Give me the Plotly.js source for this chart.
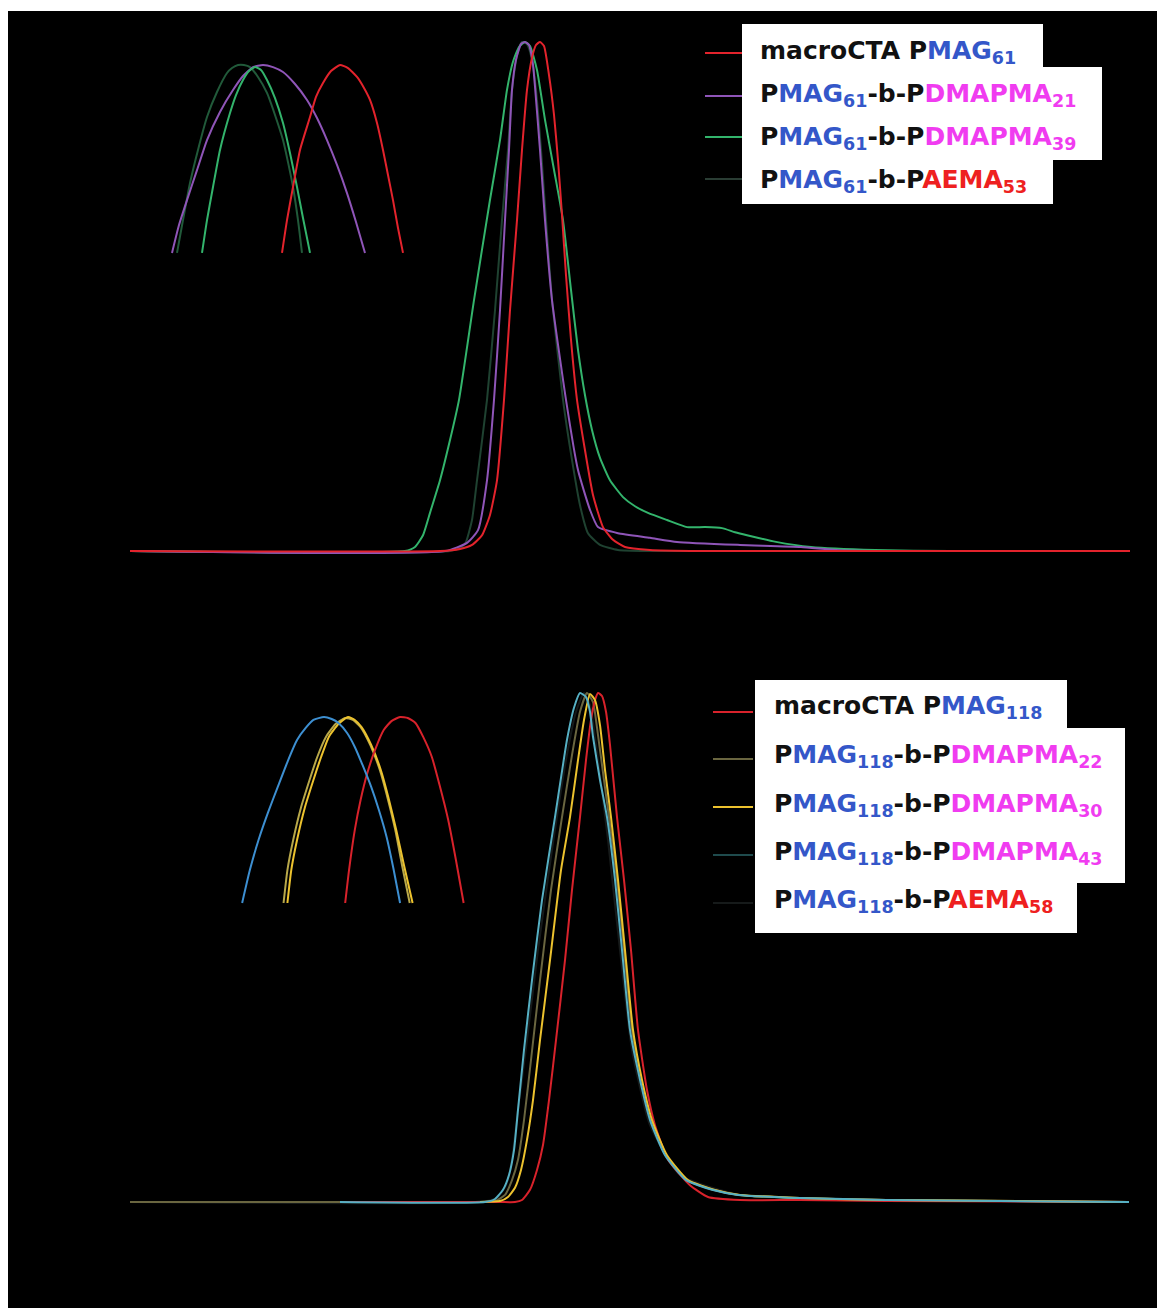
<!DOCTYPE html>
<html>
<head>
<meta charset="utf-8">
<script src="https://cdn.plot.ly/plotly-3.0.1.min.js"></script>
<style>
  html, body { margin: 0; padding: 0; background: #ffffff; }
  #wrap { position: absolute; left: 8px; top: 11px; width: 1149px; height: 1297px; }
</style>
</head>
<body>
<div id="wrap"><div id="chart"></div></div>
<script>
// ---------- Top panel: PMAG61 series (elution volume, normalised RI signal) ----------
const topRedX = [10, 16.2, 16.6, 16.84, 17.04, 17.2, 17.34, 17.48, 17.6, 17.74, 17.84, 17.94, 18.04, 18.12, 18.2, 18.28, 18.38, 18.48, 18.56, 18.64, 18.72, 18.82, 18.94, 19.1, 19.26, 19.46, 19.66, 19.9, 20.4, 21.4, 30];
const topRedY = [0, 0, 0.004, 0.012, 0.031, 0.071, 0.139, 0.297, 0.473, 0.650, 0.788, 0.906, 0.969, 0.994, 1.0, 0.992, 0.935, 0.857, 0.768, 0.660, 0.542, 0.415, 0.297, 0.198, 0.110, 0.047, 0.022, 0.008, 0.002, 0, 0];

const topPurpleX = [10, 16.3, 16.74, 16.96, 17.14, 17.28, 17.4, 17.5, 17.58, 17.64, 17.72, 17.82, 17.9, 17.98, 18.06, 18.1, 18.2, 18.3, 18.44, 18.72, 18.96, 19.2, 19.36, 19.76, 20.4, 20.94, 22.2, 23.42, 24.12, 25.0, 30];
const topPurpleY = [0, 0, 0.016, 0.041, 0.139, 0.297, 0.473, 0.650, 0.788, 0.906, 0.965, 0.996, 1.0, 0.994, 0.955, 0.912, 0.788, 0.650, 0.493, 0.297, 0.159, 0.081, 0.047, 0.035, 0.026, 0.018, 0.012, 0.008, 0.002, 0, 0];

const topGreenX = [10, 15.5, 15.7, 15.86, 16.0, 16.2, 16.4, 16.58, 16.88, 17.2, 17.4, 17.54, 17.66, 17.78, 17.9, 18.0, 18.14, 18.3, 18.48, 18.66, 18.82, 18.96, 19.1, 19.24, 19.4, 19.6, 19.86, 20.1, 20.36, 20.74, 21.14, 21.5, 21.84, 22.1, 22.34, 22.92, 23.62, 24.9, 26.4, 30];
const topGreenY = [0, 0, 0.008, 0.031, 0.075, 0.139, 0.218, 0.297, 0.493, 0.690, 0.807, 0.906, 0.961, 0.990, 1.0, 0.992, 0.945, 0.847, 0.749, 0.650, 0.513, 0.395, 0.306, 0.238, 0.183, 0.139, 0.106, 0.088, 0.075, 0.061, 0.047, 0.047, 0.045, 0.037, 0.031, 0.018, 0.008, 0.002, 0, 0];

const topDarkX = [10, 16.4, 16.64, 16.72, 16.84, 16.94, 17.14, 17.3, 17.44, 17.56, 17.64, 17.74, 17.84, 17.94, 18.04, 18.12, 18.22, 18.32, 18.44, 18.66, 18.84, 19.0, 19.16, 19.4, 19.76, 20.4, 30];
const topDarkY = [0, 0, 0.008, 0.018, 0.061, 0.139, 0.297, 0.473, 0.650, 0.788, 0.906, 0.974, 1.0, 0.996, 0.965, 0.906, 0.788, 0.650, 0.493, 0.297, 0.179, 0.090, 0.035, 0.012, 0.002, 0, 0];

// ---------- Top inset: magnified peak tops ----------
const insTopRedX = [18.028, 18.048, 18.072, 18.100, 18.140, 18.164, 18.192, 18.224, 18.260, 18.292, 18.328, 18.356, 18.380, 18.408, 18.432, 18.452, 18.472, 18.492, 18.512];
const insTopRedY = [0.9011, 0.9184, 0.9358, 0.9553, 0.9726, 0.9832, 0.9905, 0.9968, 1.0, 0.9984, 0.9937, 0.9879, 0.9816, 0.9695, 0.9553, 0.9421, 0.9289, 0.9142, 0.9011];
const insTopPurpleX = [17.588, 17.616, 17.648, 17.688, 17.728, 17.78, 17.832, 17.872, 17.912, 17.952, 17.992, 18.032, 18.08, 18.128, 18.168, 18.208, 18.248, 18.288, 18.324, 18.36];
const insTopPurpleY = [0.9011, 0.9158, 0.9289, 0.9447, 0.9605, 0.9753, 0.9868, 0.9942, 0.9989, 1.0, 0.9989, 0.9963, 0.99, 0.9816, 0.9721, 0.9605, 0.9474, 0.9326, 0.9174, 0.9011];
const insTopGreenX = [17.708, 17.728, 17.752, 17.78, 17.82, 17.844, 17.872, 17.896, 17.92, 17.944, 17.968, 18.0, 18.032, 18.06, 18.088, 18.112, 18.14];
const insTopGreenY = [0.9011, 0.9184, 0.9358, 0.9553, 0.9747, 0.9842, 0.9921, 0.9968, 0.9989, 0.9974, 0.9921, 0.9826, 0.9695, 0.9537, 0.9358, 0.9195, 0.9011];
const insTopDarkX = [17.608, 17.632, 17.66, 17.692, 17.728, 17.768, 17.808, 17.828, 17.852, 17.876, 17.9, 17.932, 17.968, 18.0, 18.032, 18.052, 18.072, 18.092, 18.108];
const insTopDarkY = [0.9011, 0.9184, 0.9379, 0.9553, 0.9726, 0.9858, 0.9958, 0.9984, 1.0, 1.0, 0.9989, 0.9937, 0.9853, 0.9737, 0.9605, 0.9489, 0.9358, 0.9184, 0.9011];

// ---------- Bottom panel: PMAG118 series ----------
const botRedX = [14.2, 17.4, 17.7, 17.84, 18.0, 18.14, 18.26, 18.38, 18.52, 18.7, 18.84, 19.0, 19.12, 19.22, 19.3, 19.36, 19.44, 19.52, 19.6, 19.74, 19.88, 20.02, 20.16, 20.34, 20.5, 20.76, 21.2, 21.56, 22.2, 23.4, 25.12, 29.98];
const botRedY = [0, 0, 0, 0.004, 0.024, 0.063, 0.112, 0.200, 0.318, 0.475, 0.613, 0.756, 0.868, 0.947, 0.986, 1.0, 0.994, 0.963, 0.898, 0.756, 0.633, 0.495, 0.338, 0.220, 0.151, 0.083, 0.033, 0.010, 0.004, 0.004, 0.002, 0];

const botOliveX = [10, 16.8, 17.3, 17.5, 17.64, 17.76, 17.88, 18.02, 18.2, 18.42, 18.64, 18.84, 19.0, 19.14, 19.26, 19.36, 19.48, 19.58, 19.74, 19.88, 20.04, 20.22, 20.42, 20.72, 21.14, 21.66, 22.18, 23.4, 25.12, 29.98];
const botOliveY = [0, 0, 0.002, 0.014, 0.043, 0.083, 0.161, 0.279, 0.436, 0.613, 0.756, 0.878, 0.963, 1.0, 0.982, 0.917, 0.829, 0.756, 0.633, 0.495, 0.338, 0.240, 0.161, 0.092, 0.043, 0.024, 0.014, 0.008, 0.004, 0];

const botYellowX = [17.0, 17.4, 17.56, 17.7, 17.82, 17.94, 18.06, 18.2, 18.4, 18.62, 18.8, 18.96, 19.08, 19.2, 19.3, 19.4, 19.5, 19.62, 19.76, 19.9, 20.06, 20.24, 20.44, 20.74, 21.16, 21.68, 22.2, 23.4, 25.12, 29.98];
const botYellowY = [0, 0.002, 0.010, 0.028, 0.063, 0.122, 0.200, 0.318, 0.475, 0.652, 0.756, 0.868, 0.947, 0.998, 0.986, 0.937, 0.849, 0.756, 0.633, 0.495, 0.338, 0.240, 0.161, 0.092, 0.043, 0.024, 0.014, 0.008, 0.004, 0];

const botTealX = [14.2, 17.1, 17.3, 17.46, 17.58, 17.68, 17.76, 17.88, 18.04, 18.24, 18.5, 18.74, 18.88, 19.0, 19.12, 19.2, 19.26, 19.4, 19.54, 19.7, 19.84, 20.0, 20.2, 20.4, 20.7, 21.12, 21.64, 22.16, 23.4, 25.12, 27.4, 29.98];
const botTealY = [0, 0, 0.006, 0.024, 0.053, 0.102, 0.181, 0.299, 0.436, 0.593, 0.756, 0.908, 0.971, 1.0, 0.992, 0.963, 0.914, 0.829, 0.756, 0.633, 0.495, 0.338, 0.240, 0.161, 0.092, 0.043, 0.024, 0.014, 0.008, 0.004, 0.002, 0];

const botDarkX = [10, 17.0, 17.34, 17.52, 17.64, 17.76, 17.94, 18.16, 18.44, 18.72, 18.92, 19.08, 19.2, 19.36, 19.56, 19.8, 20.04, 20.4, 21.0, 22.2, 25.4, 29.98];
const botDarkY = [0, 0, 0.008, 0.033, 0.083, 0.181, 0.318, 0.495, 0.692, 0.868, 0.963, 1.0, 0.976, 0.868, 0.711, 0.495, 0.299, 0.151, 0.053, 0.014, 0.004, 0];

// ---------- Bottom inset ----------
const insBotTealX = [18.952, 18.984, 19.02, 19.06, 19.1, 19.14, 19.18, 19.216, 19.248, 19.292, 19.324, 19.352, 19.388, 19.42, 19.452, 19.488, 19.52, 19.552, 19.58, 19.608];
const insBotTealY = [0.9, 0.9177, 0.9339, 0.9489, 0.9624, 0.9758, 0.9876, 0.9941, 0.9984, 1.0, 0.9989, 0.9968, 0.9914, 0.9839, 0.9742, 0.9624, 0.95, 0.9355, 0.9188, 0.9];
const insBotYellowX = [19.14, 19.156, 19.18, 19.212, 19.248, 19.28, 19.312, 19.352, 19.392, 19.42, 19.448, 19.488, 19.528, 19.56, 19.592, 19.624, 19.66];
const insBotYellowY = [0.9, 0.9177, 0.9339, 0.9511, 0.9661, 0.9785, 0.9893, 0.9962, 1.0, 0.9984, 0.9946, 0.985, 0.9715, 0.9565, 0.9393, 0.9204, 0.9];
const insBotOliveX = [19.124, 19.14, 19.164, 19.196, 19.232, 19.264, 19.3, 19.34, 19.38, 19.412, 19.444, 19.484, 19.524, 19.556, 19.588, 19.616, 19.648];
const insBotOliveY = [0.9, 0.9177, 0.9339, 0.9511, 0.9661, 0.9785, 0.9893, 0.9962, 0.9995, 0.9984, 0.9946, 0.985, 0.9715, 0.9565, 0.9393, 0.9204, 0.9];
const insBotRedX = [19.38, 19.396, 19.42, 19.444, 19.472, 19.504, 19.54, 19.572, 19.608, 19.64, 19.672, 19.704, 19.74, 19.772, 19.808, 19.84, 19.872];
const insBotRedY = [0.9, 0.9177, 0.9393, 0.9554, 0.9699, 0.9823, 0.993, 0.9978, 1.0, 0.9995, 0.9968, 0.9893, 0.9785, 0.9634, 0.9446, 0.9231, 0.9];

// ---------- Legend labels ----------
const BLUE = '#3457c9', MAG = '#f03cf0', RED = '#ee2020';
const topLabels = [
  'macroCTA P<span style="color:' + BLUE + '">MAG<sub>61</sub></span>',
  'P<span style="color:' + BLUE + '">MAG<sub>61</sub></span>-b-P<span style="color:' + MAG + '">DMAPMA<sub>21</sub></span>',
  'P<span style="color:' + BLUE + '">MAG<sub>61</sub></span>-b-P<span style="color:' + MAG + '">DMAPMA<sub>39</sub></span>',
  'P<span style="color:' + BLUE + '">MAG<sub>61</sub></span>-b-P<span style="color:' + RED + '">AEMA<sub>53</sub></span>'
];
const botLabels = [
  'macroCTA P<span style="color:' + BLUE + '">MAG<sub>118</sub></span>',
  'P<span style="color:' + BLUE + '">MAG<sub>118</sub></span>-b-P<span style="color:' + MAG + '">DMAPMA<sub>22</sub></span>',
  'P<span style="color:' + BLUE + '">MAG<sub>118</sub></span>-b-P<span style="color:' + MAG + '">DMAPMA<sub>30</sub></span>',
  'P<span style="color:' + BLUE + '">MAG<sub>118</sub></span>-b-P<span style="color:' + MAG + '">DMAPMA<sub>43</sub></span>',
  'P<span style="color:' + BLUE + '">MAG<sub>118</sub></span>-b-P<span style="color:' + RED + '">AEMA<sub>58</sub></span>'
];
const topColors = ['#e3232c', '#8f55b8', '#33b46c', '#2a3d34'];
const botColors = ['#d8222b', '#6a6640', '#ecc22e', '#1f4b4d', '#161a1a'];

// ---------- Build ----------
function tr(x, y, color, xa, ya, w) {
  return { x: x, y: y, type: 'scatter', mode: 'lines', xaxis: xa, yaxis: ya,
           line: { color: color, width: w || 2, shape: 'spline', smoothing: 0.5 },
           hoverinfo: 'skip', showlegend: false };
}
const data = [
  tr(topDarkX, topDarkY, '#1f4231', 'x', 'y'),
  tr(topGreenX, topGreenY, '#33b46c', 'x', 'y'),
  tr(topPurpleX, topPurpleY, '#8f55b8', 'x', 'y'),
  tr(topRedX, topRedY, '#e3232c', 'x', 'y'),
  tr(insTopDarkX, insTopDarkY, '#215a3a', 'x3', 'y3'),
  tr(insTopPurpleX, insTopPurpleY, '#8f55b8', 'x3', 'y3'),
  tr(insTopGreenX, insTopGreenY, '#33b46c', 'x3', 'y3'),
  tr(insTopRedX, insTopRedY, '#e3232c', 'x3', 'y3'),
  tr(botDarkX, botDarkY, '#161a1a', 'x2', 'y2'),
  tr(botOliveX, botOliveY, '#6a6640', 'x2', 'y2'),
  tr(botRedX, botRedY, '#d8222b', 'x2', 'y2'),
  tr(botYellowX, botYellowY, '#ecc22e', 'x2', 'y2'),
  tr(botTealX, botTealY, '#56b0c4', 'x2', 'y2'),
  tr(insBotOliveX, insBotOliveY, '#b8a84a', 'x4', 'y4'),
  tr(insBotYellowX, insBotYellowY, '#ecc22e', 'x4', 'y4'),
  tr(insBotRedX, insBotRedY, '#d8222b', 'x4', 'y4'),
  tr(insBotTealX, insBotTealY, '#3d8fd1', 'x4', 'y4')
];

const hidden = { visible: false, showgrid: false, zeroline: false, fixedrange: true };
const layout = {
  width: 1149, height: 1297,
  margin: { l: 122, r: 27, t: 0, b: 0 },
  paper_bgcolor: '#000000', plot_bgcolor: 'rgba(0,0,0,0)',
  font: { family: 'DejaVu Sans, sans-serif', color: '#111111' },
  xaxis:  Object.assign({}, hidden, { domain: [0, 1], range: [10, 30], anchor: 'y' }),
  yaxis:  Object.assign({}, hidden, { domain: [0.56399, 0.99576], range: [-0.05, 1.05], anchor: 'x' }),
  xaxis2: Object.assign({}, hidden, { domain: [0, 1], range: [10, 30], anchor: 'y2' }),
  yaxis2: Object.assign({}, hidden, { domain: [0.06207, 0.49383], range: [-0.05, 1.05], anchor: 'x2' }),
  xaxis3: Object.assign({}, hidden, { domain: [0.010, 0.290], range: [17.46, 18.58], anchor: 'y3' }),
  yaxis3: Object.assign({}, hidden, { domain: [0.80416, 0.96608], range: [0.89474, 1.00526], anchor: 'x3' }),
  xaxis4: Object.assign({}, hidden, { domain: [0.09, 0.35], range: [18.86, 19.94], anchor: 'y4' }),
  yaxis4: Object.assign({}, hidden, { domain: [0.30455, 0.46338], range: [0.89462, 1.00538], anchor: 'x4' }),
  shapes: [], annotations: []
};

function box(x0, x1, y0, y1) {
  layout.shapes.push({ type: 'rect', xref: 'paper', yref: 'paper', x0: x0, x1: x1, y0: y0, y1: y1,
                       fillcolor: '#ffffff', line: { width: 0 }, layer: 'above' });
}
function sample(x0, x1, y, color) {
  layout.shapes.push({ type: 'line', xref: 'paper', yref: 'paper', x0: x0, x1: x1, y0: y, y1: y,
                       line: { color: color, width: 2 }, layer: 'above' });
}
function label(x, y, text) {
  layout.annotations.push({ xref: 'paper', yref: 'paper', x: x, y: y, xanchor: 'left', yanchor: 'middle',
                            showarrow: false, text: '<b>' + text + '</b>',
                            font: { family: 'DejaVu Sans, sans-serif', size: 25, color: '#111111' } });
}

// top legend
box(0.612, 0.913, 0.95682, 0.98998);
box(0.612, 0.972, 0.88512, 0.95682);
box(0.612, 0.923, 0.85119, 0.88512);
const topRowY = [0.96839, 0.93523, 0.90208, 0.86893];
const topSampleY = [0.96762, 0.93446, 0.90285, 0.87047];
topLabels.forEach((t, i) => { label(0.628, topRowY[i], t); sample(0.575, 0.612, topSampleY[i], topColors[i]); });

// bottom legend
box(0.625, 0.937, 0.44719, 0.48419);
box(0.625, 0.995, 0.32768, 0.44719);
box(0.625, 0.947, 0.28913, 0.32768);
const botRowY = [0.46338, 0.4256, 0.38782, 0.35081, 0.31380];
const botSampleY = [0.45952, 0.42329, 0.38628, 0.34927, 0.31226];
botLabels.forEach((t, i) => { label(0.642, botRowY[i], t); sample(0.583, 0.623, botSampleY[i], botColors[i]); });

Plotly.newPlot('chart', data, layout, { displayModeBar: false, staticPlot: true });
</script>
</body>
</html>
